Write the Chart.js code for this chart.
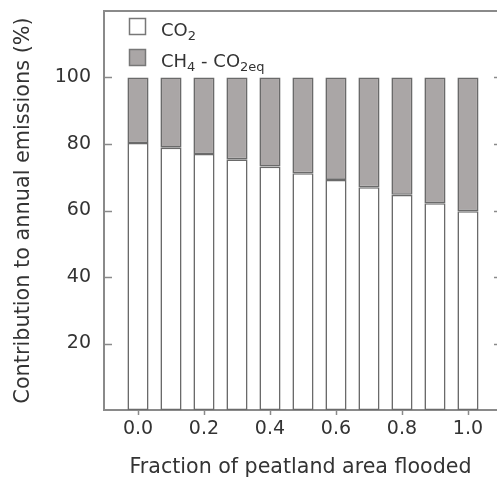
<!DOCTYPE html>
<html>
<head>
<meta charset="utf-8">
<script src="https://cdn.jsdelivr.net/npm/chart.js@4/dist/chart.umd.min.js"></script>
<style>
  html, body { margin: 0; padding: 0; background: #fff; }
  #wrap { width: 497px; height: 480px; }
</style>
</head>
<body>
<div id="wrap"><canvas id="myChart" width="497" height="480"></canvas></div>
<script>
// fraction of peatland flooded
const fractions = [0, 0.1, 0.2, 0.3, 0.4, 0.5, 0.6, 0.7, 0.8, 0.9, 1.0];
// share of annual emissions (%)
const co2Share = [80.3, 78.9, 77.0, 75.4, 73.2, 71.2, 69.2, 67.0, 64.7, 62.2, 59.8];
const ch4Share = [19.7, 21.1, 23.0, 24.6, 26.8, 28.8, 30.8, 33.0, 35.3, 37.8, 40.2];

const xTicks = [0, 0.2, 0.4, 0.6, 0.8, 1.0];
const yTicks = [20, 40, 60, 80, 100];

// legend text, split so the subscripts can be drawn smaller
const legendItems = [
  { fill: "#ffffff", parts: [["CO", false], ["2", true]] },
  { fill: "#aaa6a6", parts: [["CH", false], ["4", true], [" - CO", false], ["2eq", true]] },
];

const FONT = "'DejaVu Sans', Verdana, sans-serif";
const TEXT = "#333333";
const AXIS = "#8a8a8a";

// tick marks, top frame and the legend
const decor = {
  id: "decor",
  afterDraw(chart) {
    const { ctx, chartArea: a, scales } = chart;
    ctx.save();
    ctx.strokeStyle = AXIS;
    ctx.lineWidth = 2;
    ctx.beginPath();
    ctx.moveTo(a.left - 1, a.top);
    ctx.lineTo(a.right + 2, a.top);
    ctx.stroke();

    ctx.lineWidth = 1.5;
    yTicks.forEach((v) => {
      const y = Math.round(scales.y.getPixelForValue(v)) + 0.5;
      ctx.beginPath();
      ctx.moveTo(a.left, y);
      ctx.lineTo(a.left + 8, y);
      ctx.moveTo(a.right - 3, y);
      ctx.lineTo(a.right, y);
      ctx.stroke();
    });
    xTicks.forEach((v) => {
      const x = Math.round(scales.x.getPixelForValue(v)) + 0.5;
      ctx.beginPath();
      ctx.moveTo(x, a.bottom);
      ctx.lineTo(x, a.bottom + 5);
      ctx.stroke();
    });

    // legend
    legendItems.forEach((item, i) => {
      const bx = 129, by = 18 + i * 31;
      ctx.fillStyle = item.fill;
      ctx.fillRect(bx, by, 16, 16);
      ctx.strokeStyle = "#777";
      ctx.lineWidth = 1.5;
      ctx.strokeRect(bx + 0.5, by + 0.5, 16, 16);
      let tx = 161;
      ctx.fillStyle = TEXT;
      ctx.textBaseline = "alphabetic";
      item.parts.forEach(([t, sub]) => {
        ctx.font = (sub ? "13px " : "18px ") + FONT;
        ctx.fillText(t, tx, by + 18 + (sub ? 4 : 0));
        tx += ctx.measureText(t).width;
      });
    });
    ctx.restore();
  },
};

const data = {
  datasets: [
    {
      label: "CO2",
      data: co2Share.map((v, i) => ({ x: fractions[i], y: v })),
      backgroundColor: "#ffffff",
      borderColor: "#6a6a6a",
      borderWidth: 1.6,
      borderSkipped: false,
    },
    {
      label: "CH4 - CO2eq",
      data: ch4Share.map((v, i) => ({ x: fractions[i], y: v })),
      backgroundColor: "#aaa6a6",
      borderColor: "#6a6a6a",
      borderWidth: 1.6,
      borderSkipped: false,
    },
  ],
};

const chartParams = {
  type: "bar",
  data: data,
  plugins: [decor],
  options: {
    responsive: false,
    animation: false,
    layout: { padding: { top: 11, right: 0, left: 0, bottom: 0 } },
    datasets: { bar: { barPercentage: 0.64, categoryPercentage: 1 } },
    plugins: { legend: { display: false }, tooltip: { enabled: false } },
    scales: {
      x: {
        type: "linear",
        stacked: true,
        offset: false,
        min: -0.103,
        max: 1.088,
        grid: { display: false, drawTicks: false },
        border: { display: true, color: AXIS, width: 2 },
        afterBuildTicks: (s) => { s.ticks = xTicks.map((v) => ({ value: v })); },
        afterFit: (s) => { s.height = 70; s.paddingLeft = 0; s.paddingRight = 0; },
        ticks: {
          color: TEXT,
          font: { family: FONT, size: 19 },
          padding: 8,
          callback: (v) => Number(v).toFixed(1),
        },
        title: {
          display: true,
          text: "Fraction of peatland area flooded",
          color: TEXT,
          font: { family: FONT, size: 20.6 },
          padding: { top: 0, bottom: 0 },
        },
      },
      y: {
        stacked: true,
        min: 0,
        max: 120,
        grid: { display: false, drawTicks: false },
        border: { display: true, color: AXIS, width: 2 },
        afterBuildTicks: (s) => { s.ticks = yTicks.map((v) => ({ value: v })); },
        afterFit: (s) => { s.width = 104; s.paddingTop = 0; s.paddingBottom = 0; },
        ticks: {
          color: TEXT,
          font: { family: FONT, size: 19 },
          padding: 13,
        },
        title: {
          display: true,
          text: "Contribution to annual emissions (%)",
          color: TEXT,
          font: { family: FONT, size: 20.8 },
          padding: { top: 11, bottom: 0 },
        },
      },
    },
  },
};

const ctx = document.getElementById("myChart").getContext("2d");
const myChart = new Chart(ctx, chartParams);
</script>
</body>
</html>
